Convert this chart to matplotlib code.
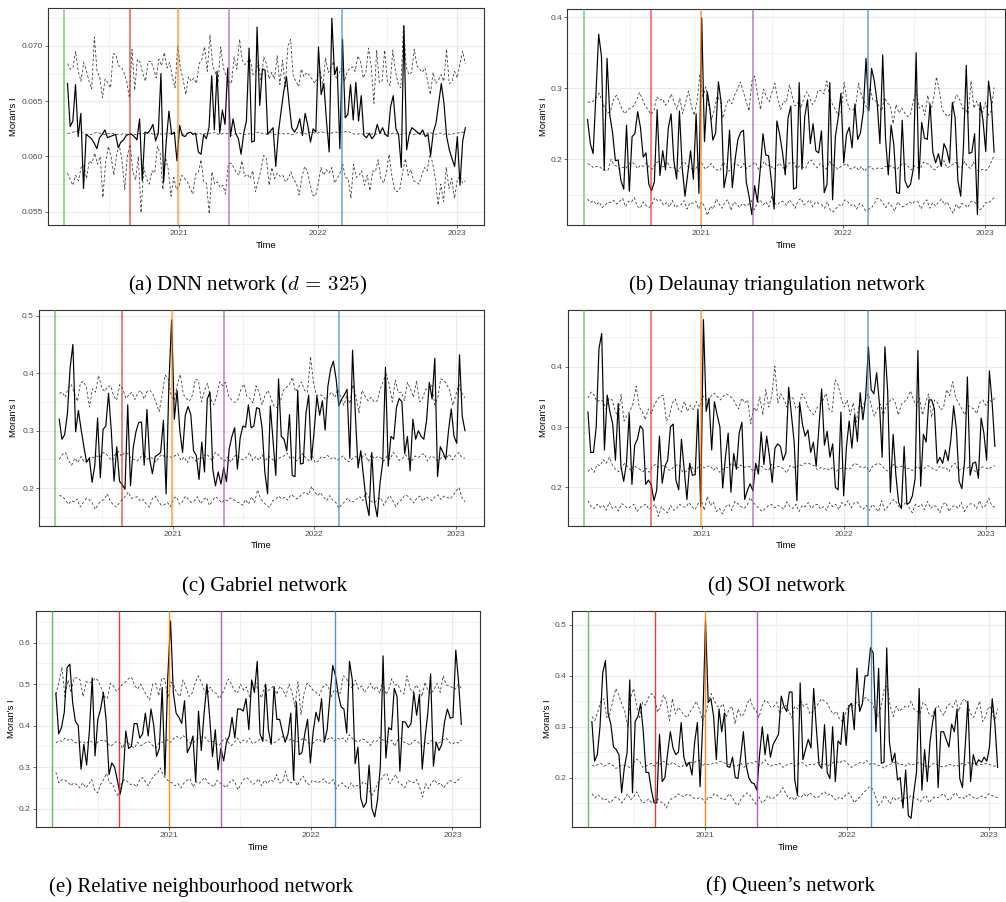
import numpy as np
import matplotlib
matplotlib.use("Agg")
import matplotlib.pyplot as plt
import matplotlib.dates as mdates

plt.rcParams["mathtext.fontset"] = "cm"

W, H = 1006, 902

# Weekly Moran's I: observed series plus the lower / middle / upper reference bands.
# DNN values are stored in units of 1e-4, all other networks in units of 1e-3.
dnn_obs = np.array([
    666, 627, 632, 665, 618, 639, 571, 620, 618, 616, 612, 607, 617, 620, 624, 617, 618, 619, 620, 608,
    613, 615, 619, 620, 620, 618, 615, 634, 578, 622, 621, 624, 629, 614, 621, 675, 577, 614, 641, 620,
    622, 596, 628, 619, 618, 621, 622, 620, 621, 604, 602, 620, 616, 626, 673, 624, 677, 621, 642, 629,
    680, 618, 634, 621, 616, 602, 621, 632, 698, 613, 614, 717, 646, 679, 678, 620, 623, 626, 591, 622,
    641, 659, 672, 648, 626, 622, 626, 634, 619, 639, 628, 613, 625, 622, 699, 656, 666, 632, 604, 725,
    674, 681, 607, 706, 635, 638, 665, 633, 667, 632, 655, 619, 617, 621, 616, 619, 629, 621, 626, 620,
    618, 645, 655, 625, 620, 590, 718, 606, 620, 626, 624, 622, 620, 624, 618, 620, 601, 622, 630, 648,
    666, 648, 618, 606, 598, 591, 618, 574, 614, 626]) / 1e4
dnn_hi = np.array([
    684, 679, 680, 695, 677, 668, 685, 678, 668, 661, 708, 677, 672, 653, 670, 667, 662, 693, 692, 682,
    681, 676, 668, 653, 697, 660, 688, 685, 675, 668, 686, 686, 680, 671, 688, 682, 694, 680, 685, 672,
    662, 700, 680, 670, 656, 672, 668, 671, 666, 684, 688, 699, 677, 710, 682, 676, 666, 699, 680, 673,
    668, 666, 690, 679, 706, 687, 683, 686, 688, 674, 676, 686, 668, 690, 684, 670, 676, 670, 691, 665,
    687, 663, 700, 706, 672, 668, 663, 679, 672, 676, 673, 670, 666, 672, 678, 664, 689, 676, 680, 686,
    670, 675, 681, 668, 676, 680, 681, 677, 691, 686, 671, 676, 698, 681, 648, 696, 667, 668, 696, 668,
    664, 696, 677, 666, 662, 719, 681, 674, 676, 697, 682, 679, 676, 680, 668, 656, 676, 666, 669, 674,
    668, 697, 666, 667, 677, 671, 684, 695, 684]) / 1e4
dnn_mid = np.array([
    621, 621, 622, 623, 622, 622, 621, 620, 620, 620, 621, 622, 621, 620, 620, 621, 620, 621, 620, 620,
    620, 621, 620, 621, 620, 620, 620, 621, 621, 620, 622, 621, 620, 620, 621, 620, 620, 621, 621, 620,
    621, 622, 621, 620, 621, 621, 621, 620, 620, 621, 620, 621, 620, 621, 621, 622, 620, 620, 621, 621,
    620, 619, 620, 621, 621, 620, 620, 620, 621, 620, 621, 622, 621, 621, 620, 622, 621, 620, 620, 621,
    621, 620, 621, 620, 620, 621, 622, 621, 621, 620, 622, 622, 621, 621, 622, 622, 621, 621, 621, 622,
    622, 621, 622, 622, 623, 622, 621, 620, 620, 621, 620, 621, 621, 620, 621, 620, 621, 621, 620, 622,
    620, 621, 621, 620, 620, 621, 621, 622, 620, 620, 621, 621, 620, 621, 621, 622, 620, 620, 621, 621,
    620, 621, 620, 620, 621, 621, 622, 622, 621]) / 1e4
dnn_lo = np.array([
    585, 579, 574, 583, 578, 590, 592, 580, 596, 594, 603, 593, 600, 563, 595, 609, 600, 583, 601, 610,
    597, 570, 601, 611, 586, 579, 600, 549, 590, 580, 575, 587, 585, 609, 603, 570, 599, 588, 564, 581,
    570, 574, 583, 580, 577, 571, 566, 584, 585, 597, 577, 576, 548, 586, 575, 577, 572, 574, 566, 593,
    594, 590, 585, 583, 596, 582, 584, 580, 587, 568, 578, 588, 601, 598, 574, 590, 580, 585, 582, 583,
    577, 580, 586, 579, 576, 565, 581, 591, 587, 575, 565, 564, 575, 590, 583, 588, 585, 590, 576, 580,
    585, 593, 581, 580, 562, 593, 581, 583, 587, 574, 583, 569, 587, 586, 597, 580, 576, 585, 602, 583,
    570, 568, 571, 586, 598, 583, 588, 578, 577, 575, 583, 590, 587, 602, 594, 580, 556, 575, 559, 590,
    571, 580, 562, 578, 583, 576, 578]) / 1e4

del_obs = np.array([
    256, 222, 208, 290, 376, 345, 185, 342, 262, 237, 198, 199, 170, 158, 248, 155, 232, 236, 267, 245,
    203, 209, 165, 156, 168, 270, 177, 212, 185, 244, 264, 198, 172, 268, 188, 148, 180, 212, 172, 264,
    152, 399, 225, 295, 270, 227, 237, 309, 280, 160, 181, 241, 160, 200, 228, 238, 241, 168, 148, 122,
    163, 140, 185, 236, 206, 205, 170, 130, 254, 235, 210, 178, 258, 275, 158, 160, 308, 186, 260, 284,
    222, 250, 212, 209, 240, 153, 165, 308, 143, 232, 258, 293, 195, 235, 245, 216, 278, 228, 237, 266,
    342, 268, 328, 310, 280, 222, 347, 230, 178, 248, 220, 153, 152, 255, 170, 160, 165, 187, 350, 172,
    252, 230, 228, 278, 210, 195, 208, 190, 222, 213, 195, 280, 258, 170, 148, 218, 332, 208, 210, 236,
    122, 280, 255, 211, 310, 280, 210]) / 1e3
del_hi = np.array([
    281, 280, 282, 287, 293, 283, 272, 265, 268, 284, 290, 281, 270, 264, 270, 272, 275, 283, 294, 285,
    275, 270, 263, 268, 288, 283, 285, 276, 281, 292, 281, 270, 286, 264, 280, 296, 275, 262, 283, 320,
    286, 302, 276, 256, 270, 289, 282, 258, 275, 285, 278, 290, 299, 309, 295, 282, 268, 310, 317, 290,
    270, 299, 288, 281, 295, 307, 284, 270, 282, 280, 305, 288, 275, 280, 272, 286, 295, 287, 277, 283,
    298, 296, 292, 310, 287, 277, 270, 261, 268, 308, 281, 270, 269, 275, 307, 290, 281, 270, 301, 283,
    282, 276, 268, 287, 279, 276, 250, 277, 265, 272, 265, 260, 263, 282, 297, 272, 276, 262, 290, 267,
    285, 316, 297, 270, 264, 260, 265, 280, 291, 285, 272, 270, 264, 310, 272, 282, 270, 266, 280, 262,
    268, 301]) / 1e3
del_mid = np.array([
    194, 192, 188, 190, 190, 186, 184, 185, 200, 192, 190, 186, 189, 187, 193, 196, 193, 187, 192, 190,
    195, 188, 186, 194, 197, 189, 190, 197, 188, 189, 186, 183, 195, 196, 190, 188, 186, 188, 196, 193,
    186, 190, 194, 188, 185, 184, 196, 191, 183, 190, 195, 192, 188, 194, 187, 190, 193, 196, 186, 189,
    197, 190, 193, 186, 188, 195, 190, 186, 193, 196, 195, 187, 191, 189, 187, 196, 199, 192, 188, 194,
    190, 186, 197, 193, 190, 186, 190, 192, 194, 187, 186, 190, 185, 190, 183, 188, 190, 186, 187, 188,
    187, 190, 189, 191, 188, 186, 190, 195, 193, 189, 185, 191, 188, 187, 196, 194, 193, 187, 185, 190,
    195, 198, 188, 190, 193, 196, 189, 188, 197, 190, 187, 196, 185, 183, 186, 184, 187, 196, 205]) / 1e3
del_lo = np.array([
    144, 139, 142, 136, 140, 132, 135, 140, 139, 142, 137, 141, 145, 133, 141, 140, 146, 134, 131, 140,
    135, 132, 136, 146, 141, 143, 135, 139, 133, 142, 132, 135, 136, 142, 130, 139, 138, 141, 130, 140,
    134, 121, 134, 130, 144, 137, 131, 140, 143, 128, 140, 137, 132, 138, 135, 136, 142, 129, 138, 143,
    136, 140, 133, 148, 138, 136, 141, 140, 135, 143, 138, 131, 142, 145, 136, 139, 143, 133, 140, 138,
    136, 131, 140, 128, 126, 131, 136, 134, 143, 140, 135, 137, 130, 138, 135, 128, 130, 131, 137, 145,
    144, 138, 132, 139, 134, 127, 140, 135, 133, 136, 140, 137, 141, 140, 130, 138, 143, 131, 139, 134,
    140, 144, 136, 140, 131, 124, 137, 130, 138, 136, 132, 140, 141, 137, 129, 131, 139, 138, 142, 146]) / 1e3

gab_obs = np.array([
    320, 285, 293, 330, 410, 450, 298, 335, 302, 272, 245, 252, 210, 240, 322, 218, 302, 308, 365, 300,
    212, 272, 212, 206, 198, 345, 204, 270, 298, 314, 315, 240, 337, 250, 225, 255, 258, 262, 318, 190,
    380, 493, 320, 370, 300, 262, 327, 342, 328, 265, 257, 215, 280, 228, 355, 367, 233, 204, 228, 207,
    236, 211, 268, 290, 305, 233, 287, 308, 306, 345, 305, 308, 340, 338, 305, 228, 190, 343, 283, 222,
    390, 290, 285, 265, 328, 222, 220, 370, 242, 243, 330, 362, 249, 300, 360, 327, 352, 301, 377, 407,
    421, 390, 343, 355, 362, 372, 252, 440, 330, 235, 265, 220, 175, 152, 262, 175, 150, 208, 245, 410,
    238, 290, 285, 340, 356, 350, 260, 290, 230, 320, 285, 300, 290, 285, 318, 384, 355, 426, 220, 272,
    262, 250, 300, 338, 290, 278, 432, 325, 300]) / 1e3
gab_hi = np.array([
    365, 367, 358, 375, 380, 366, 351, 383, 386, 375, 341, 373, 367, 396, 376, 368, 377, 378, 360, 353,
    380, 373, 356, 362, 367, 354, 366, 370, 355, 368, 370, 363, 349, 333, 362, 397, 390, 360, 353, 380,
    398, 363, 356, 351, 362, 390, 387, 350, 370, 382, 356, 345, 360, 385, 378, 384, 360, 353, 349, 354,
    372, 381, 360, 356, 348, 378, 367, 345, 362, 370, 355, 342, 340, 350, 370, 375, 380, 393, 368, 375,
    385, 370, 367, 429, 382, 361, 363, 360, 354, 362, 367, 358, 372, 358, 344, 362, 347, 380, 360, 331,
    370, 360, 352, 358, 350, 352, 372, 386, 398, 380, 350, 388, 366, 367, 352, 384, 373, 358, 387, 350,
    356, 372, 373, 380, 345, 356, 390, 388, 380, 370, 344, 362, 380, 365, 357]) / 1e3
gab_mid = np.array([
    250, 258, 262, 248, 240, 252, 244, 255, 245, 247, 255, 253, 256, 253, 262, 260, 253, 248, 259, 264,
    255, 262, 260, 252, 250, 247, 253, 262, 250, 253, 252, 245, 254, 259, 252, 256, 253, 256, 260, 248,
    254, 244, 256, 252, 246, 254, 252, 260, 255, 248, 262, 258, 251, 247, 254, 245, 255, 258, 252, 249,
    254, 262, 248, 255, 248, 258, 246, 256, 252, 246, 250, 254, 256, 261, 252, 254, 247, 253, 260, 252,
    248, 258, 244, 247, 255, 253, 257, 251, 254, 248, 252, 256, 248, 246, 252, 255, 249, 253, 260, 246,
    258, 251, 255, 253, 247, 256, 250, 262, 256, 248, 252, 258, 250, 248, 256, 253, 258, 260, 247, 255,
    254, 248, 250, 256, 252, 259, 249, 257, 262, 253, 252]) / 1e3
gab_lo = np.array([
    187, 186, 180, 172, 178, 176, 181, 167, 175, 182, 180, 174, 163, 172, 178, 180, 190, 177, 171, 167,
    174, 180, 186, 193, 182, 184, 185, 177, 180, 172, 167, 182, 186, 177, 170, 171, 175, 168, 182, 185,
    172, 176, 186, 180, 175, 178, 185, 173, 180, 184, 170, 178, 185, 181, 174, 180, 178, 183, 180, 176,
    174, 170, 180, 172, 185, 175, 197, 182, 175, 170, 166, 178, 180, 186, 181, 184, 179, 188, 186, 181,
    185, 191, 193, 188, 203, 193, 187, 192, 184, 178, 187, 179, 175, 165, 172, 176, 183, 175, 177, 181,
    185, 178, 192, 184, 176, 175, 181, 183, 170, 180, 187, 178, 168, 176, 180, 188, 186, 180, 174, 183,
    186, 177, 185, 182, 178, 185, 188, 180, 186, 184, 181, 186, 195, 201, 183, 176]) / 1e3

soi_obs = np.array([
    325, 258, 258, 300, 430, 455, 262, 353, 325, 305, 245, 339, 235, 210, 240, 322, 205, 270, 280, 302,
    296, 205, 212, 205, 178, 195, 285, 207, 235, 245, 300, 305, 212, 196, 280, 230, 180, 240, 220, 221,
    330, 168, 478, 326, 348, 262, 342, 320, 300, 199, 250, 290, 192, 256, 230, 290, 308, 180, 195, 206,
    194, 240, 222, 292, 238, 285, 252, 208, 265, 272, 268, 245, 258, 366, 320, 275, 178, 340, 305, 285,
    295, 258, 275, 235, 300, 363, 270, 293, 250, 272, 200, 196, 325, 186, 266, 310, 265, 320, 276, 357,
    312, 350, 433, 362, 355, 390, 340, 250, 433, 360, 192, 288, 220, 175, 165, 268, 172, 175, 186, 215,
    427, 202, 288, 275, 345, 345, 330, 240, 250, 240, 262, 244, 280, 335, 296, 210, 198, 245, 383, 220,
    240, 242, 215, 315, 290, 245, 393, 340, 268]) / 1e3
soi_hi = np.array([
    348, 358, 353, 342, 345, 343, 330, 348, 345, 328, 315, 354, 310, 320, 327, 340, 368, 333, 326, 312,
    330, 322, 336, 345, 352, 352, 310, 318, 340, 346, 330, 325, 343, 326, 336, 329, 342, 333, 352, 347,
    342, 353, 356, 350, 345, 352, 355, 351, 348, 338, 330, 348, 340, 345, 305, 333, 326, 350, 320, 362,
    333, 352, 401, 340, 355, 346, 333, 350, 348, 330, 335, 355, 348, 333, 325, 320, 332, 337, 345, 356,
    330, 325, 378, 370, 348, 333, 345, 320, 340, 308, 337, 330, 345, 355, 336, 318, 330, 338, 320, 337,
    342, 348, 340, 320, 338, 342, 348, 360, 345, 335, 348, 320, 340, 355, 316, 345, 340, 328, 333, 362,
    352, 375, 348, 340, 330, 320, 336, 333, 330, 322, 340, 345, 336, 345, 342, 348]) / 1e3
soi_mid = np.array([
    226, 232, 225, 238, 236, 246, 240, 250, 237, 230, 226, 232, 240, 234, 228, 236, 233, 230, 226, 232,
    225, 234, 238, 233, 235, 237, 230, 228, 234, 237, 236, 225, 226, 232, 234, 226, 234, 238, 232, 235,
    236, 228, 234, 225, 230, 232, 234, 240, 236, 232, 237, 233, 235, 234, 226, 232, 237, 234, 230, 228,
    238, 232, 235, 234, 230, 224, 236, 234, 232, 238, 236, 240, 240, 238, 236, 229, 233, 230, 232, 228,
    234, 226, 230, 232, 232, 230, 232, 240, 238, 234, 232, 235, 226, 235, 238, 240, 237, 230, 227, 234,
    238, 233, 234, 236, 230, 232, 228, 232, 235, 226, 232, 236, 234, 230, 228, 235, 232, 233, 226, 236,
    240, 228, 230, 233, 232, 235, 228, 226, 230, 234, 232, 230, 234, 236]) / 1e3
soi_lo = np.array([
    178, 168, 165, 172, 167, 170, 162, 175, 165, 168, 161, 173, 170, 165, 168, 172, 160, 166, 170, 172,
    163, 168, 172, 152, 168, 162, 158, 170, 162, 165, 172, 168, 167, 175, 168, 163, 173, 180, 162, 185,
    170, 176, 160, 165, 156, 168, 172, 162, 177, 173, 168, 165, 170, 183, 175, 170, 164, 160, 165, 170,
    172, 166, 170, 168, 164, 176, 168, 165, 172, 160, 170, 168, 175, 165, 170, 172, 164, 168, 162, 175,
    168, 172, 163, 175, 170, 178, 166, 174, 176, 168, 164, 170, 162, 172, 165, 160, 178, 162, 168, 175,
    180, 174, 165, 170, 176, 166, 158, 172, 168, 172, 163, 177, 165, 170, 168, 158, 172, 175, 160, 168,
    170, 165, 175, 160, 168, 173, 172, 165, 178, 166, 170, 182, 170, 167]) / 1e3

rng_obs = np.array([
    478, 380, 395, 432, 540, 548, 455, 410, 400, 295, 355, 305, 390, 515, 327, 415, 440, 480, 410, 282,
    310, 300, 268, 235, 270, 387, 345, 350, 405, 405, 370, 380, 430, 375, 440, 400, 326, 345, 492, 280,
    515, 652, 480, 430, 420, 405, 460, 335, 350, 375, 265, 435, 340, 430, 500, 420, 325, 390, 293, 345,
    315, 360, 375, 420, 370, 440, 440, 435, 465, 390, 510, 480, 555, 380, 362, 500, 390, 355, 493, 415,
    415, 385, 360, 380, 430, 270, 457, 330, 335, 380, 415, 310, 385, 432, 410, 465, 360, 390, 470, 545,
    520, 475, 445, 440, 382, 555, 510, 308, 348, 225, 203, 215, 305, 200, 180, 220, 300, 568, 322, 395,
    390, 490, 470, 290, 410, 408, 395, 405, 480, 425, 475, 295, 370, 430, 525, 302, 360, 340, 355, 410,
    440, 418, 420, 582, 505, 403]) / 1e3
rng_hi = np.array([
    475, 505, 541, 470, 510, 480, 515, 515, 510, 470, 506, 503, 505, 515, 508, 490, 470, 465, 502, 496,
    483, 490, 500, 505, 513, 517, 497, 488, 500, 486, 473, 462, 500, 502, 472, 515, 512, 466, 505, 496,
    478, 470, 510, 493, 470, 478, 502, 520, 506, 486, 475, 493, 480, 478, 465, 477, 495, 512, 500, 485,
    478, 500, 486, 493, 470, 502, 505, 480, 467, 498, 484, 488, 497, 475, 495, 486, 470, 500, 482, 445,
    505, 426, 478, 502, 495, 485, 480, 472, 490, 500, 495, 470, 487, 480, 478, 520, 514, 497, 490, 510,
    488, 496, 480, 490, 502, 486, 495, 478, 505, 475, 487, 513, 497, 500, 482, 476, 520, 490, 480, 498,
    487, 470, 505, 482, 477, 488, 502, 480, 520, 498, 496, 492, 488, 500, 490]) / 1e3
rng_mid = np.array([
    358, 364, 362, 370, 365, 368, 360, 358, 360, 362, 356, 364, 360, 352, 362, 364, 366, 358, 350, 355,
    362, 360, 345, 362, 358, 350, 346, 360, 352, 355, 362, 360, 352, 346, 358, 360, 362, 366, 360, 370,
    374, 368, 376, 370, 360, 356, 362, 370, 372, 375, 365, 360, 362, 356, 352, 363, 370, 360, 352, 360,
    370, 358, 365, 360, 370, 356, 360, 364, 372, 368, 362, 360, 358, 363, 368, 374, 372, 365, 368, 360,
    362, 366, 370, 362, 356, 358, 365, 368, 360, 364, 368, 372, 363, 370, 366, 370, 360, 378, 368, 364,
    360, 368, 366, 360, 352, 364, 362, 372, 366, 363, 360, 365, 350, 366, 370, 360, 358, 352, 362, 365,
    358, 350, 360, 356, 364, 362, 356, 360, 366, 370, 360, 355, 360, 358, 366]) / 1e3
rng_lo = np.array([
    288, 262, 270, 268, 265, 255, 262, 258, 250, 262, 250, 258, 270, 245, 238, 258, 270, 285, 262, 260,
    240, 230, 262, 270, 265, 258, 260, 252, 268, 275, 265, 255, 270, 280, 285, 298, 280, 272, 265, 262,
    255, 260, 250, 262, 268, 272, 252, 265, 260, 268, 275, 262, 258, 252, 268, 262, 258, 250, 260, 270,
    265, 245, 258, 270, 275, 268, 258, 262, 272, 255, 268, 260, 270, 265, 282, 262, 262, 290, 265, 262,
    270, 255, 270, 278, 262, 258, 268, 265, 262, 268, 272, 260, 262, 270, 248, 258, 262, 255, 248, 262,
    252, 256, 250, 265, 260, 245, 232, 245, 262, 270, 280, 285, 260, 272, 282, 262, 258, 250, 268, 265,
    262, 270, 252, 228, 260, 248, 262, 270, 258, 262, 250, 258, 268, 265, 262, 270, 275]) / 1e3

que_obs = np.array([
    310, 232, 245, 300, 405, 430, 325, 305, 260, 255, 245, 170, 220, 248, 392, 170, 310, 320, 345, 290,
    210, 210, 175, 150, 150, 285, 192, 200, 248, 290, 258, 245, 250, 308, 240, 222, 230, 205, 270, 308,
    182, 310, 508, 348, 355, 320, 235, 335, 290, 327, 222, 220, 240, 200, 198, 240, 290, 225, 200, 190,
    188, 175, 245, 300, 245, 285, 240, 265, 275, 285, 360, 340, 330, 368, 368, 195, 165, 386, 235, 255,
    275, 258, 375, 295, 225, 218, 304, 210, 198, 300, 192, 272, 265, 328, 263, 340, 346, 294, 415, 330,
    345, 400, 400, 455, 445, 290, 415, 228, 230, 455, 270, 230, 248, 195, 200, 140, 215, 125, 120, 170,
    210, 375, 175, 255, 192, 270, 310, 335, 180, 290, 290, 275, 260, 305, 290, 335, 198, 180, 260, 350,
    192, 245, 225, 235, 230, 240, 232, 260, 355, 305, 220]) / 1e3
que_hi = np.array([
    320, 312, 330, 350, 355, 318, 325, 350, 375, 362, 345, 330, 300, 358, 375, 340, 318, 348, 342, 358,
    365, 358, 328, 340, 362, 350, 312, 355, 325, 338, 330, 322, 318, 330, 338, 350, 335, 312, 322, 348,
    365, 352, 340, 338, 345, 318, 335, 340, 305, 335, 320, 325, 345, 355, 338, 332, 318, 340, 352, 348,
    338, 340, 348, 325, 338, 342, 330, 318, 340, 335, 350, 340, 345, 325, 330, 338, 346, 355, 350, 345,
    332, 325, 330, 315, 310, 325, 342, 338, 345, 348, 333, 355, 358, 350, 345, 330, 320, 340, 375, 380,
    340, 320, 340, 330, 335, 340, 338, 350, 335, 330, 325, 348, 342, 325, 320, 335, 342, 330, 322, 340,
    345, 338, 352, 330, 350, 355, 342, 325, 318, 335, 350, 310, 320, 340, 335, 310, 335]) / 1e3
que_mid = np.array([
    224, 222, 226, 228, 222, 225, 228, 224, 218, 220, 225, 224, 222, 218, 230, 236, 232, 220, 222, 225,
    228, 222, 230, 226, 232, 228, 224, 230, 226, 222, 220, 226, 228, 230, 228, 232, 234, 222, 228, 225,
    226, 230, 228, 232, 229, 228, 226, 225, 222, 224, 228, 220, 226, 230, 228, 232, 224, 228, 235, 226,
    222, 226, 225, 228, 220, 224, 226, 228, 222, 226, 230, 228, 222, 226, 224, 228, 230, 225, 228, 222,
    226, 230, 232, 228, 234, 232, 226, 220, 224, 226, 230, 228, 234, 226, 228, 226, 224, 222, 218, 224,
    226, 228, 232, 225, 226, 222, 228, 224, 226, 228, 230, 224, 222, 220, 226, 228, 224, 222, 220, 224,
    226, 222, 225, 222, 228, 224, 230, 226, 228, 224, 226, 225, 228, 226, 224, 222, 224]) / 1e3
que_lo = np.array([
    168, 160, 166, 162, 155, 158, 150, 156, 162, 158, 150, 158, 168, 156, 162, 172, 160, 150, 152, 158,
    150, 156, 158, 152, 150, 140, 155, 160, 162, 168, 164, 162, 168, 165, 160, 158, 160, 158, 150, 162,
    160, 168, 165, 160, 156, 158, 168, 162, 150, 145, 158, 165, 170, 165, 156, 148, 162, 150, 155, 165,
    158, 160, 165, 170, 180, 168, 158, 162, 155, 165, 160, 168, 162, 170, 165, 160, 162, 168, 172, 165,
    168, 160, 155, 162, 158, 165, 170, 162, 150, 158, 162, 170, 175, 182, 178, 165, 145, 150, 165, 158,
    148, 162, 155, 160, 152, 162, 158, 165, 160, 158, 152, 160, 165, 150, 158, 162, 160, 165, 168, 158,
    155, 165, 170, 160, 162, 158, 168, 165, 160, 158, 162, 164, 160, 168, 165, 162, 160]) / 1e3

series_start = "2020-03-15"
series_end = "2023-01-24"
event_dates = ["2020-03-05", "2020-08-25", "2020-12-31", "2021-05-14", "2022-03-05"]
event_colours = ["#4DAF4A", "#E41A1C", "#FF7F00", "#984EA3", "#377EB8"]
year_ticks = ["2021-01-01", "2022-01-01", "2023-01-01"]
year_labels = ["2021", "2022", "2023"]
mid_years = ["2020-07-02", "2021-07-02", "2022-07-02"]

dnn_yticks = [0.055, 0.060, 0.065, 0.070]
dnn_yminor = [0.0575, 0.0625, 0.0675, 0.0725]
dnn_ylabels = ["0.055", "0.060", "0.065", "0.070"]

captions = [
    "(a) DNN network ($d\\,=\\,325$)",
    "(b) Delaunay triangulation network",
    "(c) Gabriel network",
    "(d) SOI network",
    "(e) Relative neighbourhood network",
    "(f) Queen\u2019s network",
]


def dn(s):
    return mdates.date2num(np.datetime64(s))


def ticks_from(lo, hi, step):
    return list(np.round(np.arange(lo, hi + 1e-9, step), 4))


panels = [
    dict(data=(dnn_obs, dnn_hi, dnn_mid, dnn_lo), box=(47.7, 8.3, 484, 225),
         ylim=(0.0538, 0.0734), yt=dnn_yticks, ym=dnn_yminor, yl=dnn_ylabels,
         xr="2023-03-14", cap=(248, 285), ylx=13, xly=245, vlw=1.1, va=0.7),
    dict(data=(del_obs, del_hi, del_mid, del_lo), box=(567.3, 8.7, 1005, 225),
         ylim=(0.1075, 0.412), yt=ticks_from(0.2, 0.4, 0.1), ym=ticks_from(0.15, 0.35, 0.1),
         xr="2023-02-21", cap=(777, 285), ylx=543, xly=245, vlw=1.1, va=0.7),
    dict(data=(gab_obs, gab_hi, gab_mid, gab_lo), box=(39, 310, 484, 526),
         ylim=(0.134, 0.51), yt=ticks_from(0.2, 0.5, 0.1), ym=ticks_from(0.15, 0.45, 0.1),
         xr="2023-03-14", cap=(265, 587), ylx=14, xly=545, vlw=1.1, va=0.7),
    dict(data=(soi_obs, soi_hi, soi_mid, soi_lo), box=(567.7, 309.7, 1005, 526),
         ylim=(0.136, 0.4945), yt=ticks_from(0.2, 0.4, 0.1), ym=ticks_from(0.15, 0.45, 0.1),
         xr="2023-02-19", cap=(777, 587), ylx=544, xly=545, vlw=1.1, va=0.7),
    dict(data=(rng_obs, rng_hi, rng_mid, rng_lo), box=(35.7, 610.7, 480, 827),
         ylim=(0.1556, 0.677), yt=ticks_from(0.2, 0.6, 0.1), ym=ticks_from(0.25, 0.65, 0.1),
         xr="2023-03-13", cap=(201, 887), ylx=12, xly=847, vlw=1.0, va=0.85),
    dict(data=(que_obs, que_hi, que_mid, que_lo), box=(571.7, 610.7, 1005, 827),
         ylim=(0.1027, 0.528), yt=ticks_from(0.2, 0.5, 0.1), ym=ticks_from(0.15, 0.45, 0.1),
         xr="2023-02-12", cap=(790, 887), ylx=547, xly=847, vlw=1.0, va=0.85),
]

fig = plt.figure(figsize=(W / 100, H / 100), dpi=100)
fig.patch.set_facecolor("white")

x0, x1 = dn(series_start), dn(series_end)
sans = "Liberation Sans"
serif = "Liberation Serif"

for p, cap_text in zip(panels, captions):
    L, T, R, B = p["box"]
    ax = fig.add_axes([L / W, 1 - B / H, (R - L) / W, (B - T) / H])
    obs, hi, mid, lo = p["data"]

    for band in (hi, mid, lo):
        xb = np.linspace(x0, x1, len(band))
        ax.plot(xb, band, color="#404040", lw=0.6, ls=(0, (3.2, 2.4)), zorder=3)
    xo = np.linspace(x0, x1, len(obs))
    ax.plot(xo, obs, color="black", lw=0.85, zorder=4)

    for d, c in zip(event_dates, event_colours):
        ax.axvline(dn(d), color=c, lw=p["vlw"], alpha=p["va"], zorder=5)

    ax.set_xlim(dn("2020-01-23"), dn(p["xr"]))
    ax.set_ylim(*p["ylim"])

    ax.set_xticks([dn(t) for t in year_ticks])
    ax.set_xticklabels(year_labels)
    ax.set_xticks([dn(t) for t in mid_years], minor=True)
    ax.set_yticks(p["yt"])
    if "yl" in p:
        ax.set_yticklabels(p["yl"])
    else:
        ax.set_yticklabels([f"{v:.1f}" for v in p["yt"]])
    ax.set_yticks(p["ym"], minor=True)

    ax.grid(True, which="major", color="#EBEBEB", lw=0.9, zorder=0)
    ax.grid(True, which="minor", color="#EBEBEB", lw=0.45, zorder=0)
    ax.set_axisbelow(True)

    ax.tick_params(which="major", length=2, width=0.5, color="#333333",
                   labelsize=6, labelcolor="#4D4D4D", pad=1.6)
    ax.tick_params(which="minor", length=0)
    for lab in ax.get_xticklabels() + ax.get_yticklabels():
        lab.set_fontfamily(sans)
    for s in ax.spines.values():
        s.set_color("#333333")
        s.set_linewidth(0.8)

    fig.text(p["ylx"] / W, 1 - (T + B) / 2 / H, "Moran's I", rotation=90,
             ha="center", va="center", fontsize=6.8, family=sans)
    fig.text((L + R) / 2 / W, 1 - p["xly"] / H, "Time",
             ha="center", va="center", fontsize=6.8, family=sans)
    fig.text(p["cap"][0] / W, 1 - p["cap"][1] / H, cap_text,
             ha="center", va="center", fontsize=15, family=serif)

fig.savefig("out.png", dpi=100, facecolor="white")
